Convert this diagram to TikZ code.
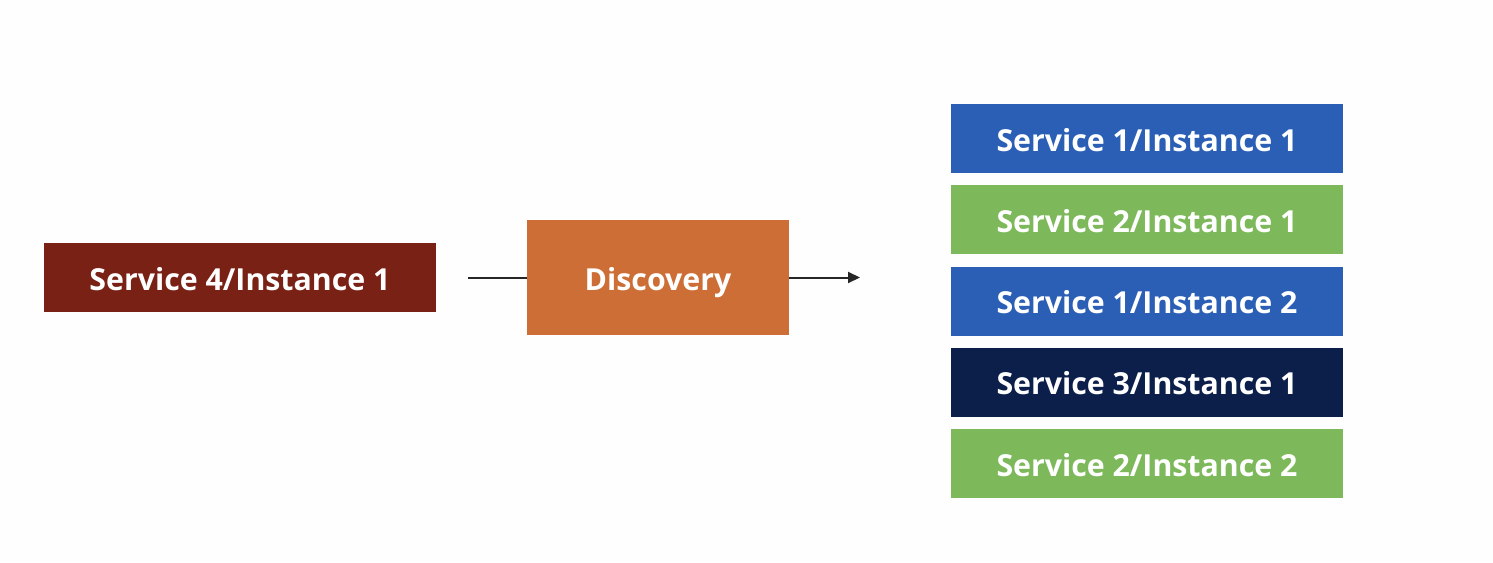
\documentclass[tikz,border=0pt]{standalone}
\usepackage{fontspec}
\setmainfont{Open Sans}
\usetikzlibrary{arrows.meta}
\definecolor{svcred}{HTML}{7A2116}
\definecolor{svcorange}{HTML}{CC6E35}
\definecolor{svcblue}{HTML}{2B5FB6}
\definecolor{svcgreen}{HTML}{7DB95A}
\definecolor{svcnavy}{HTML}{0C1F4A}
\definecolor{bg}{HTML}{FEFEFE}
\tikzset{
  box/.style={draw=none, text=white, font=\fontsize{30.3}{35}\selectfont\bfseries,
    minimum width=392pt, minimum height=69pt, inner sep=0pt,
    text height=25pt, text depth=0pt},
  conn/.style={line width=2pt, draw=black!85},
}
\begin{document}
\begin{tikzpicture}[x=1pt,y=-1pt]
\fill[bg] (0,0) rectangle (1493,562);
\useasboundingbox (0,0) rectangle (1493,562);
\node[box, fill=svcred] (s4) at (240,277.5) {Service 4/Instance 1};
\node[box, fill=svcorange, minimum width=262pt, minimum height=115pt] (disc) at (658,277.5) {Discovery};
\node[box, fill=svcblue] (r1) at (1147,138.5) {Service 1/Instance 1};
\node[box, fill=svcgreen] (r2) at (1147,219.5) {Service 2/Instance 1};
\node[box, fill=svcblue] (r3) at (1147,301) {Service 1/Instance 2};
\node[box, fill=svcnavy] (r4) at (1147,382) {Service 3/Instance 1};
\node[box, fill=svcgreen] (r5) at (1147,463.5) {Service 2/Instance 2};
\coordinate (tip) at (860,277.5);
\draw[conn, shorten <=32pt] (s4.east) -- (disc.west);
\draw[conn, -{Triangle[length=12pt,width=11pt]}] (disc.east) -- (tip);
\end{tikzpicture}
\end{document}
